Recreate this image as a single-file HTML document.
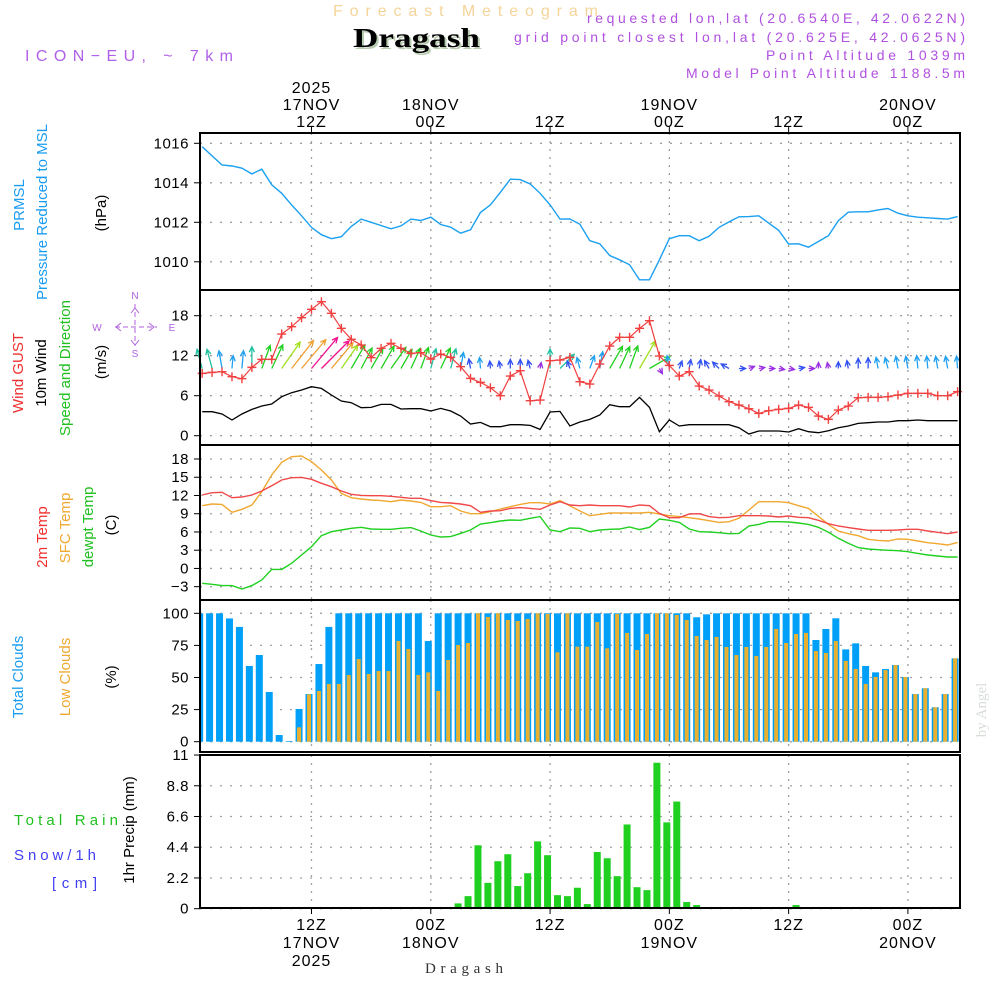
<!DOCTYPE html>
<html><head><meta charset="utf-8"><title>Forecast Meteogram Dragash</title>
<style>
html,body{margin:0;padding:0;background:#fff;}
svg{display:block;font-family:"Liberation Sans",sans-serif;}
</style></head>
<body>
<svg id="chart" width="1000" height="1000" viewBox="0 0 1000 1000" xmlns="http://www.w3.org/2000/svg">
<rect width="1000" height="1000" fill="#fff"/>
<text x="333" y="16" font-size="16" fill="#f5d49a" textLength="265" lengthAdjust="spacing">Forecast Meteogram</text>
<text x="355" y="49" font-family="Liberation Serif, serif" font-weight="bold" font-size="27" fill="#b8ccb0" textLength="127" lengthAdjust="spacingAndGlyphs">Dragash</text>
<text x="353" y="47" font-family="Liberation Serif, serif" font-weight="bold" font-size="27" fill="#000" textLength="127" lengthAdjust="spacingAndGlyphs">Dragash</text>
<text x="25" y="61" font-size="16" fill="#b060e8" textLength="208" lengthAdjust="spacing">ICON−EU, ~ 7km</text>
<g font-size="14" fill="#b050e0">
<text x="587" y="23" textLength="378" lengthAdjust="spacing">requested lon,lat (20.6540E, 42.0622N)</text>
<text x="514" y="42" textLength="451" lengthAdjust="spacing">grid point closest lon,lat (20.625E, 42.0625N)</text>
<text x="766" y="60" textLength="199" lengthAdjust="spacing">Point Altitude 1039m</text>
<text x="686" y="78" textLength="279" lengthAdjust="spacing">Model Point Altitude 1188.5m</text>
</g>
<text transform="translate(986,710) rotate(-90)" text-anchor="middle" font-family="Liberation Serif, serif" font-size="15" fill="#d8ddd8">by Angel</text>
<text x="425" y="973" font-family="Liberation Serif, serif" font-size="15" fill="#333" textLength="78" lengthAdjust="spacing">Dragash</text>

<g font-size="15">
<text transform="translate(24,205) rotate(-90)" text-anchor="middle" fill="#1a9cf0">PRMSL</text>
<text transform="translate(47,212) rotate(-90)" text-anchor="middle" fill="#1a9cf0">Pressure Reduced to MSL</text>
<text transform="translate(106,213) rotate(-90)" text-anchor="middle" fill="#000">(hPa)</text>
<text transform="translate(23,373) rotate(-90)" text-anchor="middle" fill="#f03030">Wind GUST</text>
<text transform="translate(46,373) rotate(-90)" text-anchor="middle" fill="#000">10m Wind</text>
<text transform="translate(70,368) rotate(-90)" text-anchor="middle" fill="#20c020">Speed and Direction</text>
<text transform="translate(106,362) rotate(-90)" text-anchor="middle" fill="#000">(m/s)</text>
<text transform="translate(47,537) rotate(-90)" text-anchor="middle" fill="#f03030">2m Temp</text>
<text transform="translate(70,528) rotate(-90)" text-anchor="middle" fill="#f0a830">SFC Temp</text>
<text transform="translate(93,527) rotate(-90)" text-anchor="middle" fill="#20c020">dewpt Temp</text>
<text transform="translate(116,525) rotate(-90)" text-anchor="middle" fill="#000">(C)</text>
<text transform="translate(23,677) rotate(-90)" text-anchor="middle" fill="#1a9cf0">Total Clouds</text>
<text transform="translate(70,677) rotate(-90)" text-anchor="middle" fill="#f0a830">Low Clouds</text>
<text transform="translate(116,677) rotate(-90)" text-anchor="middle" fill="#000">(%)</text>
<text transform="translate(134,830) rotate(-90)" text-anchor="middle" fill="#000">1hr Precip (mm)</text>
</g>
<text x="14" y="825" font-size="15" fill="#20c020" textLength="104" lengthAdjust="spacing">Total   Rain</text>
<text x="14" y="860" font-size="15" fill="#4040f0" textLength="82" lengthAdjust="spacing">Snow/1h</text>
<text x="52" y="888" font-size="15" fill="#4040f0" textLength="45" lengthAdjust="spacing">[cm]</text>

<g fill="#b060e0" stroke="#b060e0" font-size="10" text-anchor="middle">
<text x="135" y="299" stroke="none">N</text>
<text x="135" y="357" stroke="none">S</text>
<text x="97" y="331" stroke="none">W</text>
<text x="172" y="331" stroke="none">E</text>
<line x1="135" y1="304" x2="135" y2="346" stroke-dasharray="5,3" stroke-width="1"/>
<line x1="115" y1="327" x2="157" y2="327" stroke-dasharray="5,3" stroke-width="1"/>
<path d="M131,313L135,308L139,313M131,340L135,345L139,340M121,323L116,327L121,331M149,323L154,327L149,331" fill="none" stroke-width="1"/>
</g>
<g id="plot"></g>
</svg>
<script>
const startHour = -11;
const pressure = [1015.83,1015.36,1014.9,1014.85,1014.74,1014.45,1014.69,1013.9,1013.47,1012.88,1012.33,1011.74,1011.37,1011.17,1011.27,1011.79,1012.16,1012.0,1011.84,1011.67,1011.82,1012.16,1012.09,1012.26,1011.89,1011.75,1011.45,1011.62,1012.5,1012.88,1013.52,1014.18,1014.16,1013.94,1013.47,1012.88,1012.16,1012.17,1011.9,1011.07,1010.91,1010.32,1010.1,1009.85,1009.09,1009.09,1010.1,1011.17,1011.32,1011.32,1011.07,1011.29,1011.74,1012.02,1012.28,1012.29,1012.33,1011.96,1011.59,1010.9,1010.91,1010.74,1011.03,1011.32,1012.08,1012.51,1012.53,1012.53,1012.63,1012.7,1012.46,1012.33,1012.26,1012.23,1012.19,1012.16,1012.29];
const gust = [9.35,9.5,9.6,8.85,8.55,10.25,11.45,11.45,15.25,16.35,17.7,18.95,20.1,18.35,16.1,14.45,13.6,11.7,13.1,13.85,13.1,12.35,12.45,11.5,12.25,11.75,10.35,8.6,8.0,7.2,6.0,8.95,9.75,5.25,5.35,11.25,11.35,11.75,8.1,7.75,10.75,13.45,14.75,14.75,16.1,17.25,11.95,10.55,8.95,9.6,7.45,6.85,5.95,5.1,4.6,4.05,3.35,3.75,3.95,4.1,4.6,4.25,2.95,2.45,3.85,4.45,5.7,5.75,5.75,5.85,6.1,6.35,6.35,6.35,6.0,6.0,6.6];
const wind10m = [3.6,3.6,3.25,2.35,3.25,3.95,4.45,4.75,5.85,6.45,6.85,7.35,7.1,6.1,5.2,4.95,4.2,4.25,4.7,4.7,4.0,4.05,4.05,3.7,4.1,3.7,2.95,1.75,2.0,1.35,1.35,1.65,1.65,1.55,0.95,3.55,3.65,1.45,2.05,2.45,3.1,4.65,4.35,4.35,5.75,4.25,0.6,2.35,1.45,1.65,1.65,1.65,1.65,1.65,1.2,0.25,0.7,0.7,0.7,0.55,1.05,0.6,0.45,0.75,1.2,1.45,1.85,1.95,2.05,2.05,2.25,2.25,2.35,2.25,2.25,2.25,2.25];
const windDir = [-15,-15,-10,5,5,0,20,25,35,38,40,40,45,40,35,30,28,30,30,35,30,25,20,15,25,15,10,-10,-5,-5,-10,0,0,-15,10,0,45,-20,-15,20,10,30,25,20,30,60,150,-10,20,10,10,-30,-45,-60,90,70,80,90,100,100,80,90,0,-10,0,-10,0,0,-10,-15,-10,-10,-5,-5,-10,-10,-5];
const temp2m = [12.08,12.46,12.52,11.64,11.75,12.08,12.74,13.61,14.55,14.93,14.98,14.66,14.0,13.45,12.74,12.19,12.02,11.97,11.97,11.86,11.7,11.53,11.53,11.15,10.87,10.76,10.6,10.32,9.23,9.45,9.5,9.88,10.0,9.88,9.72,10.43,10.98,10.43,10.32,10.43,10.32,10.32,10.32,10.1,10.43,10.32,9.06,8.35,8.35,8.95,9.0,8.52,8.35,8.41,8.68,8.68,8.68,8.62,8.46,8.62,8.41,8.35,7.91,7.36,6.98,6.71,6.49,6.27,6.27,6.27,6.32,6.43,6.43,6.16,5.94,5.72,6.0];
const tempSfc = [10.32,10.6,10.54,9.23,9.72,10.43,12.63,15.37,17.45,18.38,18.49,17.56,16.19,14.55,12.35,11.64,11.42,11.26,11.15,10.98,11.26,11.09,10.87,10.16,10.16,10.32,9.45,9.0,9.0,9.34,9.78,10.16,10.54,10.82,10.82,10.6,11.15,10.32,9.45,8.68,8.9,9.12,9.12,9.12,9.12,9.23,8.95,8.68,8.52,8.35,8.13,7.86,7.58,7.69,8.24,9.61,10.98,10.98,10.98,10.82,10.32,9.88,8.57,7.25,6.16,5.72,5.39,4.79,4.62,4.51,4.84,4.79,4.51,4.24,4.07,3.85,4.29];
const dewpt = [-2.45,-2.61,-2.83,-2.83,-3.38,-2.83,-1.9,-0.15,-0.15,0.84,2.21,3.58,5.39,6.05,6.32,6.6,6.76,6.49,6.43,6.43,6.6,6.71,6.16,5.5,5.17,5.23,5.77,6.32,7.31,7.53,7.8,7.97,7.91,8.24,8.52,6.32,6.05,6.65,6.6,6.05,6.32,6.43,6.49,6.82,6.38,6.76,8.13,7.91,7.58,6.49,6.05,6.0,5.88,5.72,5.77,6.98,7.25,7.69,7.69,7.64,7.47,7.25,6.76,5.94,4.95,4.13,3.42,3.2,3.09,2.98,2.92,2.76,2.48,2.21,2.05,1.88,1.88];
const totalClouds = [100,100,100,96,89.4,59,67.5,38.7,5.2,0.5,25.5,37.1,60.5,89.4,100,100,100,100,100,100,100,100,100,78.4,100,100,100,100,100,100,100,100,100,100,100,100,100,100,100,100,100,100,100,100,100,100,100,100,100,100,96.9,99.2,100,100,100,100,100,100,100,100,100,100,79.2,87.8,96.1,71.9,76.6,59,54,56.6,59.7,50.4,37.1,41.6,26.8,37.1,64.9];
const lowClouds = [0,0,0,0,0,0,0,0,0,0,11.2,36.9,39.5,45,45,52,64.4,52.7,55,55,78.4,72.2,52,54,39.5,63.6,75.3,76.9,100,97.1,100,94.8,94,95.6,100,99.5,69.6,100,74,74,93.2,72.7,99.5,84.7,71.4,83.9,100,100,98.7,94.8,82.3,79.2,81.6,73.8,67.5,73.8,66.8,73.8,87.8,76.9,83.9,84.7,70.6,69.1,78.4,62.9,56.6,45,50.4,55.8,59.7,50.4,37.1,41.6,26.8,37.1,64.9];
const precip = [0,0,0,0,0,0,0,0,0,0,0,0,0,0,0,0,0,0,0,0,0,0,0,0,0,0,0.38,0.9,4.54,1.85,3.4,3.9,1.62,2.54,4.82,3.83,0.97,0.9,1.5,0.33,4.06,3.61,2.33,6.03,1.54,1.33,10.45,6.18,7.67,0.48,0.26,0.02,0,0,0,0.1,0.1,0,0.1,0.1,0.26,0,0,0,0,0,0,0,0,0,0,0,0,0,0,0,0];
const pressureTicks = [1010,1012,1014,1016];
const windTicks = [0,6,12,18];
const tempTicks = [-3,0,3,6,9,12,15,18];
const cloudTicks = [0,25,50,75,100];
const precipTicks = [0,2.2,4.4,6.6,8.8,11];
const timeTickHours = [0,12,24,36,48,60];
const topTimeLabels = [["2025","17NOV","12Z"],["","18NOV","00Z"],["","","12Z"],["","19NOV","00Z"],["","","12Z"],["","20NOV","00Z"]];
const bottomTimeLabels = [["12Z","17NOV","2025"],["00Z","18NOV",""],["12Z","",""],["00Z","19NOV",""],["12Z","",""],["00Z","20NOV",""]];

const L = 200, R = 960;
const X = h => 311.5 + 9.94 * h;
const Yp = v => 143.3 + (1016 - v) * 19.75;
const Yw = v => 435.7 - v * 6.667;
const Yt = v => 459 + (18 - v) * 6.08;
const Yc = v => 741.7 - v * 1.284;
const Yr = v => 908.7 - v * 13.97;
const panels = [
  {name:'pressure-panel', top:133, bot:290, ticks:pressureTicks, y:Yp, fmt:v=>String(v)},
  {name:'wind-panel', top:290, bot:445, ticks:windTicks, y:Yw, fmt:v=>String(v)},
  {name:'temperature-panel', top:445, bot:600, ticks:tempTicks, y:Yt, fmt:v=>v<0?'−'+(-v):String(v)},
  {name:'cloud-panel', top:600, bot:752, ticks:cloudTicks, y:Yc, fmt:v=>String(v)},
  {name:'precip-panel', top:755, bot:908, ticks:precipTicks, y:Yr, fmt:v=>String(v)}
];
const NS = 'http://www.w3.org/2000/svg';
const plot = document.getElementById('plot');
function mk(tag, attrs, parent) {
  const e = document.createElementNS(NS, tag);
  for (const k in attrs) e.setAttribute(k, attrs[k]);
  (parent || plot).appendChild(e);
  return e;
}
const hours = pressure.map((_, i) => startHour + i);
function pathOf(arr, yf) { return arr.map((v, i) => (i ? 'L' : 'M') + X(hours[i]).toFixed(1) + ',' + yf(v).toFixed(1)).join(''); }

panels.forEach(p => {
  const g = mk('g', {});
  
  
  p.ticks.forEach(t => {
    const y = p.y(t);
    const gl = mk('line', {x1:L, x2:R, y1:y, y2:y, stroke:'#a0a0a0', 'stroke-width':1.3, 'stroke-dasharray':'2,8'}, g);
    
    
    mk('line', {x1:L-6, x2:L, y1:y, y2:y, stroke:'#000', 'stroke-width':1}, g);
    const lb = mk('text', {x:L-11, y:y+5, 'text-anchor':'end', 'font-size':15, fill:'#000', 'letter-spacing':0.5}, g);
    lb.textContent = p.fmt(t);
    
    
  });
  timeTickHours.forEach(h => {
    const vl = mk('line', {x1:X(h), x2:X(h), y1:p.top, y2:p.bot, stroke:'#a0a0a0', 'stroke-width':1.3, 'stroke-dasharray':'2,6'}, g);
    
    
  });
});

const pl = mk('path', {d:pathOf(pressure, Yp), fill:'none', stroke:'#1aa0f0', 'stroke-width':1.4});



function windColor(v) {
  if (v < 1) return '#9a30e0';
  if (v < 2) return '#3050f0';
  if (v < 3.3) return '#20a0f0';
  if (v < 4) return '#20c0a0';
  if (v < 5) return '#20d020';
  if (v < 6) return '#a0e020';
  if (v < 7) return '#f0a030';
  return '#f01090';
}
const arrows = mk('g', {fill:'none', 'stroke-width':1.3});


wind10m.forEach((v, i) => {
  const x0 = X(hours[i]), y0 = 368.5;
  const len = Math.max(6, v * 5.5);
  const a = windDir[i] * Math.PI / 180;
  const x1 = x0 + len * Math.sin(a), y1 = y0 - len * Math.cos(a);
  const c = windColor(v);
  const hl = 6, ha = 0.45;
  const b1x = x1 - hl * Math.sin(a - ha), b1y = y1 + hl * Math.cos(a - ha);
  const b2x = x1 - hl * Math.sin(a + ha), b2y = y1 + hl * Math.cos(a + ha);
  const ar = mk('path', {d:`M${x0},${y0}L${x1},${y1}M${b1x},${b1y}L${x1},${y1}L${b2x},${b2y}`, stroke:c}, arrows);
  
  
});

const wl = mk('path', {d:pathOf(wind10m, Yw), fill:'none', stroke:'#000', 'stroke-width':1.3});


const gl = mk('path', {d:pathOf(gust, Yw), fill:'none', stroke:'#f04040', 'stroke-width':1.2});


const gm = mk('g', {stroke:'#f04040', 'stroke-width':1.4});


gust.forEach((v, i) => {
  const x = X(hours[i]), y = Yw(v);
  const m = mk('path', {d:`M${x-4.5},${y}H${x+4.5}M${x},${y-4.5}V${y+4.5}`}, gm);
  
  
});

[[tempSfc,'#f0a830','sfc-temp-line'],[temp2m,'#f04848','temp-2m-line'],[dewpt,'#20d020','dewpt-line']].forEach(s => {
  const t = mk('path', {d:pathOf(s[0], Yt), fill:'none', stroke:s[1], 'stroke-width':1.4});
  
  
});

const cg = mk('g', {});


totalClouds.forEach((v, i) => {
  const cx = X(hours[i]) - 2.5;
  const x0 = Math.max(L, cx - 3.5), x1 = Math.min(R, cx + 3.5);
  if (x1 <= x0) return;
  const b = mk('rect', {x:x0, y:Yc(v), width:x1 - x0, height:Yc(0) - Yc(v), fill:'#00a0f8'}, cg);
  
  
  const lv = lowClouds[i];
  const lx0 = Math.max(L, cx - 2), lx1 = Math.min(R, cx + 2);
  if (lv > 0 && lx1 > lx0) {
    const lb = mk('rect', {x:lx0, y:Yc(lv), width:lx1 - lx0, height:Yc(0) - Yc(lv), fill:'#e8b030'}, cg);
    
    
  }
});

const rg = mk('g', {});


precip.forEach((v, i) => {
  if (v <= 0) return;
  const cx = X(hours[i]) - 2.5;
  const b = mk('rect', {x:cx - 3.5, y:Yr(v), width:7, height:Yr(0) - Yr(v), fill:'#20d020'}, rg);
  
  
});

panels.forEach(p => {
  const f = mk('rect', {x:L, y:p.top, width:R - L, height:p.bot - p.top, fill:'none', stroke:'#000', 'stroke-width':2});
  
  
});

timeTickHours.forEach((h, k) => {
  const x = X(h);
  mk('line', {x1:x, x2:x, y1:127, y2:133, stroke:'#000', 'stroke-width':1});
  mk('line', {x1:x, x2:x, y1:908, y2:914, stroke:'#000', 'stroke-width':1});
  topTimeLabels[k].forEach((s, j) => {
    if (!s) return;
    const t = mk('text', {x:x, y:93 + j * 17, 'text-anchor':'middle', 'font-size':16, fill:'#000', 'letter-spacing':1});
    t.textContent = s;
    
    
  });
  bottomTimeLabels[k].forEach((s, j) => {
    if (!s) return;
    const t = mk('text', {x:x, y:930 + j * 18, 'text-anchor':'middle', 'font-size':16, fill:'#000', 'letter-spacing':1});
    t.textContent = s;
    
    
  });
});
</script>
</body></html>
